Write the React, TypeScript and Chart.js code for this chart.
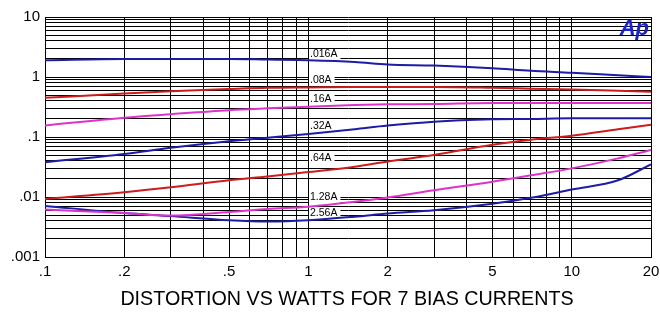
import React, { useEffect, useRef } from "react";
import { Chart, registerables } from "chart.js";

Chart.register(...registerables);

const watts = [0.1, 0.2, 0.3, 0.5, 0.7, 1, 1.5, 2, 3, 5, 7, 10, 15, 20];

const bias016 = [1.9, 2.0, 2.0, 2.0, 1.95, 1.9, 1.78, 1.62, 1.55, 1.4, 1.27, 1.18, 1.07, 1.0];
const bias08 = [0.45, 0.53, 0.58, 0.63, 0.66, 0.67, 0.68, 0.68, 0.68, 0.66, 0.64, 0.62, 0.59, 0.57];
const bias16 = [0.155, 0.21, 0.24, 0.28, 0.3, 0.32, 0.34, 0.35, 0.355, 0.37, 0.37, 0.37, 0.37, 0.37];
const bias32 = [0.038, 0.052, 0.066, 0.085, 0.097, 0.112, 0.135, 0.155, 0.18, 0.197, 0.2, 0.205, 0.205, 0.205];
const bias64 = [0.0093, 0.012, 0.0145, 0.019, 0.022, 0.026, 0.032, 0.039, 0.05, 0.074, 0.09, 0.105, 0.135, 0.16];
const bias128 = [0.0062, 0.0054, 0.0049, 0.0056, 0.0063, 0.0069, 0.0083, 0.0098, 0.013, 0.018, 0.023, 0.03, 0.044, 0.061];
const bias256 = [0.0071, 0.0054, 0.0048, 0.0041, 0.0039, 0.0041, 0.0047, 0.0053, 0.006, 0.0077, 0.0097, 0.0133, 0.019, 0.035];

const seriesNames = [".016A", ".08A", ".16A", ".32A", ".64A", "1.28A", "2.56A"];
const seriesValues = [bias016, bias08, bias16, bias32, bias64, bias128, bias256];
const seriesColors = ["#1c1ca6", "#cc1c1c", "#dd33cc", "#1c1ca6", "#cc1c1c", "#dd33cc", "#1c1ca6"];
// label anchor values (y) at x = 1 W
const labelAnchorX = 1;
const labelAnchorY = [2.42, 0.89, 0.43, 0.152, 0.0447, 0.01, 0.0054];

const xGrid = [0.1, 0.2, 0.3, 0.4, 0.5, 0.6, 0.7, 0.8, 0.9, 1, 2, 3, 4, 5, 6, 7, 8, 9, 10, 20];
const yGrid = [
  0.001, 0.002, 0.003, 0.004, 0.005, 0.006, 0.007, 0.008, 0.009,
  0.01, 0.02, 0.03, 0.04, 0.05, 0.06, 0.07, 0.08, 0.09,
  0.1, 0.2, 0.3, 0.4, 0.5, 0.6, 0.7, 0.8, 0.9,
  1, 2, 3, 4, 5, 6, 7, 8, 9, 10,
];
const xTickValues = [0.1, 0.2, 0.5, 1, 2, 5, 10, 20];
const xTickLabels = [".1", ".2", ".5", "1", "2", "5", "10", "20"];
const yTickValues = [0.001, 0.01, 0.1, 1, 10];
const yTickLabels = [".001", ".01", ".1", "1", "10"];

const titleText = "DISTORTION VS WATTS FOR 7 BIAS CURRENTS";
const logoText = "Ap";

function labelFor(values: number[], labels: string[], v: number) {
  const i = values.findIndex((t) => Math.abs(t - v) / t < 1e-6);
  return i >= 0 ? labels[i] : "";
}

const textPlugin = {
  id: "textPlugin",
  beforeDatasetsDraw(chart: any) {
    const ctx = chart.ctx;
    const xs = chart.scales.x;
    const ys = chart.scales.y;
    ctx.save();
    ctx.font = "10.5px 'Liberation Sans', Arial, sans-serif";
    ctx.textBaseline = "middle";
    ctx.textAlign = "left";
    seriesNames.forEach((name, i) => {
      const px = Math.round(xs.getPixelForValue(labelAnchorX)) + 1;
      const py = Math.round(ys.getPixelForValue(labelAnchorY[i]));
      const w = ctx.measureText(name).width;
      ctx.fillStyle = "#ffffff";
      ctx.fillRect(px, py - 5, w + 4, 11);
      ctx.fillStyle = "#000000";
      ctx.fillText(name, px + 1, py + 0.5);
    });
    ctx.restore();
  },
  afterDraw(chart: any) {
    const ctx = chart.ctx;
    const area = chart.chartArea;
    ctx.save();
    ctx.fillStyle = "#1a22cc";
    ctx.font = "italic bold 22px 'Liberation Sans', Arial, sans-serif";
    ctx.textAlign = "right";
    ctx.textBaseline = "alphabetic";
    ctx.fillText(logoText, area.right - 2, area.top + 18);
    ctx.fillStyle = "#000000";
    ctx.font = "19.7px 'Liberation Sans', Arial, sans-serif";
    ctx.textAlign = "center";
    ctx.textBaseline = "middle";
    ctx.fillText(titleText, 347, 300);
    ctx.restore();
  },
};

export default function App() {
  const ref = useRef<HTMLCanvasElement | null>(null);
  useEffect(() => {
    document.body.style.margin = "0";
    const canvas = ref.current;
    if (!canvas) return;
    const chart = new Chart(canvas, {
      type: "line",
      data: {
        datasets: seriesNames.map((name, i) => ({
          label: name,
          data: watts.map((w, j) => ({ x: w, y: seriesValues[i][j] })),
          borderColor: seriesColors[i],
          backgroundColor: seriesColors[i],
          borderWidth: 2,
          pointRadius: 0,
          cubicInterpolationMode: "monotone" as const,
          fill: false,
        })),
      },
      options: {
        responsive: false,
        animation: false,
        layout: { padding: { top: 17, right: 9, left: 0, bottom: 0 } },
        plugins: {
          legend: { display: false },
          tooltip: { enabled: false },
          title: { display: false },
        },
        scales: {
          x: {
            type: "logarithmic",
            min: 0.1,
            max: 20,
            afterBuildTicks: (scale: any) => {
              scale.ticks = xGrid.map((v) => ({ value: v }));
            },
            afterFit: (scale: any) => {
              scale.height = 67;
              scale.paddingLeft = 0;
              scale.paddingRight = 0;
            },
            ticks: {
              autoSkip: false,
              maxRotation: 0,
              padding: 6,
              color: "#000",
              font: { family: "'Liberation Sans Narrow', 'Liberation Sans', Arial, sans-serif", size: 15 },
              callback: (v: any) => labelFor(xTickValues, xTickLabels, Number(v)),
            },
            grid: { color: "#000", lineWidth: 1, drawTicks: false },
            border: { display: true, color: "#000", width: 1 },
          },
          y: {
            type: "logarithmic",
            min: 0.001,
            max: 10,
            afterBuildTicks: (scale: any) => {
              scale.ticks = yGrid.map((v) => ({ value: v }));
            },
            afterFit: (scale: any) => {
              scale.width = 45;
              scale.paddingTop = 0;
              scale.paddingBottom = 0;
            },
            ticks: {
              autoSkip: false,
              padding: 5,
              color: "#000",
              font: { family: "'Liberation Sans Narrow', 'Liberation Sans', Arial, sans-serif", size: 15 },
              callback: (v: any) => labelFor(yTickValues, yTickLabels, Number(v)),
            },
            grid: { color: "#000", lineWidth: 1, drawTicks: false },
            border: { display: true, color: "#000", width: 1 },
          },
        },
      },
      plugins: [textPlugin],
    });
    return () => chart.destroy();
  }, []);
  return <canvas ref={ref} width={660} height={324} style={{ display: "block" }} />;
}
